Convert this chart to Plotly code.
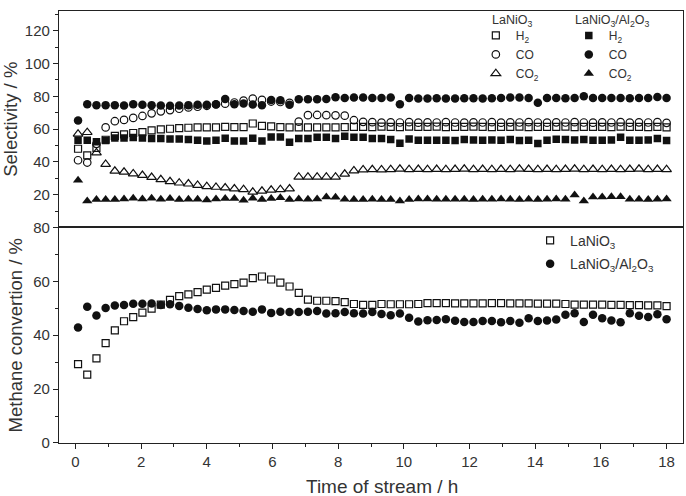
import plotly.graph_objects as go

# ---------------- data ----------------
time_h = [0.08, 0.36, 0.64, 0.92, 1.20, 1.48, 1.76, 2.04, 2.32, 2.60,
          2.88, 3.16, 3.44, 3.72, 4.00, 4.28, 4.56, 4.84, 5.12, 5.40,
          5.68, 5.96, 6.24, 6.52, 6.80, 7.08, 7.36, 7.64, 7.92, 8.20,
          8.48, 8.76, 9.04, 9.32, 9.60, 9.88, 10.16, 10.44, 10.72, 11.00,
          11.28, 11.56, 11.84, 12.12, 12.40, 12.68, 12.96, 13.24, 13.52, 13.80,
          14.08, 14.36, 14.64, 14.92, 15.20, 15.48, 15.76, 16.04, 16.32, 16.60,
          16.88, 17.16, 17.44, 17.72, 18.00]

# Selectivity, LaNiO3 (open symbols)
sel_h2_lanio3 = [48.0, 44.0, 48.5, 53.5, 55.8, 56.8, 57.6, 58.2, 59.2, 59.8,
                 60.2, 60.6, 60.8, 61.0, 61.0, 61.0, 61.4, 61.2, 61.2, 63.4,
                 62.0, 61.6, 61.2, 61.0, 61.0, 61.0, 61.0, 61.0, 61.0, 61.2,
                 61.4, 61.4, 61.2, 61.5, 61.3, 61.2, 61.5, 61.4, 61.3, 61.5,
                 61.2, 61.4, 61.3, 61.5, 61.4, 61.2, 61.4, 61.3, 61.5, 61.2,
                 61.4, 61.3, 61.4, 61.5, 61.2, 61.4, 61.3, 61.4, 61.2, 61.5,
                 61.3, 61.4, 61.2, 61.4, 61.0]
sel_co_lanio3 = [41.0, 39.6, 51.0, 61.0, 64.8, 65.6, 66.8, 68.0, 69.6, 70.8,
                 71.6, 72.4, 73.2, 73.6, 74.2, 75.0, 75.5, 76.2, 77.4, 78.6,
                 77.8, 76.8, 76.5, 76.0, 64.5, 68.5, 68.6, 68.5, 68.4, 68.2,
                 65.4, 64.4, 64.2, 63.9, 64.1, 64.0, 64.2, 63.9, 64.1, 64.0,
                 64.2, 64.0, 63.9, 64.1, 64.0, 64.2, 63.9, 64.1, 64.0, 64.2,
                 64.0, 63.9, 64.1, 64.0, 64.2, 64.0, 63.9, 64.1, 64.0, 64.2,
                 63.9, 64.1, 64.0, 64.2, 63.8]
sel_co2_lanio3 = [57.0, 58.0, 45.6, 38.6, 34.4, 33.8, 32.8, 31.8, 30.6, 29.2,
                  28.0, 27.2, 26.6, 25.8, 25.0, 24.6, 24.2, 23.6, 23.2, 21.6,
                  22.2, 22.8, 23.2, 23.6, 30.8, 30.8, 30.8, 30.8, 30.8, 32.6,
                  34.6, 35.2, 35.3, 35.2, 35.4, 35.6, 35.4, 35.5, 35.4, 35.5,
                  35.4, 35.5, 35.6, 35.4, 35.5, 35.4, 35.5, 35.4, 35.6, 35.5,
                  35.4, 35.5, 35.4, 35.5, 35.6, 35.4, 35.5, 35.4, 35.5, 35.4,
                  35.5, 35.6, 35.4, 35.5, 35.4]

# Selectivity, LaNiO3/Al2O3 (filled symbols)
sel_h2_al2o3 = [53.2, 53.2, 52.2, 53.0, 54.6, 54.6, 54.8, 54.6, 54.2, 54.2,
                54.0, 54.0, 53.6, 53.2, 52.8, 53.2, 54.4, 52.8, 52.8, 54.4,
                52.8, 55.2, 55.2, 52.0, 54.2, 54.2, 55.0, 55.0, 54.2, 55.6,
                55.0, 55.0, 54.2, 54.2, 53.6, 51.4, 54.0, 53.2, 53.2, 53.2,
                53.2, 53.0, 53.6, 53.4, 53.2, 53.4, 53.2, 53.6, 53.0, 53.2,
                51.2, 53.2, 53.8, 53.6, 53.4, 53.6, 53.2, 53.2, 53.4, 55.0,
                53.2, 53.2, 53.4, 54.2, 53.0]
sel_co_al2o3 = [65.2, 75.2, 74.6, 74.6, 74.6, 74.4, 75.2, 74.8, 74.6, 74.4,
                74.2, 74.4, 74.6, 74.8, 74.8, 75.2, 78.4, 75.2, 75.6, 75.0,
                74.6, 77.8, 77.6, 74.8, 78.2, 78.2, 78.2, 78.4, 79.4, 79.0,
                79.2, 79.2, 79.0, 79.0, 79.2, 75.2, 79.0, 78.6, 78.6, 78.8,
                78.6, 78.6, 78.8, 78.8, 78.6, 78.8, 79.0, 79.2, 79.2, 79.0,
                76.0, 79.0, 79.0, 78.8, 79.0, 80.0, 79.0, 79.0, 79.0, 79.0,
                78.8, 79.0, 79.0, 79.6, 79.0]
sel_co2_al2o3 = [28.8, 16.2, 17.0, 17.0, 17.0, 17.4, 17.8, 17.4, 17.8, 17.2,
                 17.6, 17.0, 17.2, 17.2, 16.8, 17.4, 17.6, 17.6, 16.6, 17.8,
                 17.0, 17.6, 18.2, 17.0, 17.4, 17.2, 17.4, 18.6, 18.4, 17.2,
                 17.0, 17.0, 17.2, 17.0, 17.0, 16.2, 17.0, 17.4, 17.4, 17.2,
                 17.2, 17.2, 17.2, 17.0, 17.2, 17.2, 17.4, 17.2, 17.0, 17.2,
                 17.0, 17.2, 17.4, 17.2, 19.8, 16.2, 18.6, 18.6, 18.8, 18.8,
                 17.2, 17.2, 17.0, 17.2, 17.4]

# Methane conversion
conv_lanio3 = [29.3, 25.4, 31.4, 37.1, 41.8, 45.2, 46.7, 48.4, 49.9, 51.4,
               53.1, 54.5, 55.2, 56.0, 56.9, 57.6, 58.4, 59.0, 59.5, 61.2,
               61.8, 60.7, 59.5, 58.1, 55.7, 53.2, 52.8, 52.8, 52.7, 52.3,
               51.6, 51.3, 51.3, 51.6, 51.5, 51.5, 51.5, 51.6, 51.9, 51.9,
               51.9, 51.8, 51.8, 51.8, 51.8, 51.9, 51.9, 51.8, 51.8, 51.8,
               51.7, 51.7, 51.7, 51.6, 51.4, 51.4, 51.4, 51.4, 51.3, 51.3,
               51.2, 51.2, 51.1, 51.1, 50.8]
conv_lanio3_al2o3 = [42.9, 50.6, 47.3, 50.1, 51.0, 51.2, 51.7, 51.7, 51.8, 51.2,
                     51.5, 50.9, 50.2, 49.7, 49.3, 49.6, 49.6, 49.4, 49.0, 48.7,
                     49.6, 48.3, 48.7, 48.6, 48.6, 48.7, 49.0, 48.1, 48.2, 48.6,
                     48.2, 48.1, 48.6, 47.9, 47.4, 48.1, 46.5, 45.1, 45.6, 45.7,
                     45.9, 45.4, 44.9, 44.9, 45.3, 45.3, 44.8, 45.3, 44.6, 46.3,
                     45.3, 45.5, 45.8, 47.6, 48.2, 44.9, 47.6, 46.3, 45.5, 44.8,
                     48.2, 47.2, 46.8, 47.8, 45.9]

x_ticks = [0, 2, 4, 6, 8, 10, 12, 14, 16, 18]
sel_ticks = [20, 40, 60, 80, 100, 120]
conv_ticks = [0, 20, 40, 60, 80]

# ---------------- styling ----------------
W, H = 686, 496
ML, MR, MT, MB = 59, 2, 6, 53
PW, PH = W - ML - MR, H - MT - MB
INK = "#111111"
TXT = "#333333"
FONT = "Liberation Sans, Arial, Helvetica, sans-serif"
SPLIT = 0.4989
LEG_FONT = 12
HEAD_FONT = 12.5


def px_x(p):
    return (p - ML) / PW


def px_y(p):
    return 1 - (p - MT) / PH


fig = go.Figure()


def add(x, y, name, symbol, size, xa, ya, legend, filled, group):
    marker = dict(symbol=symbol if filled else symbol + "-open", size=size,
                  color=INK, line=dict(color=INK, width=0 if filled else 1.2))
    fig.add_trace(go.Scatter(x=x, y=y, mode="markers", name=name, marker=marker,
                             xaxis=xa, yaxis=ya, legend=legend, legendgroup=group,
                             showlegend=True))


add(time_h, sel_h2_lanio3, "H<sub>2</sub>", "square", 7, "x2", "y2", "legend", False, "a1")
add(time_h, sel_co_lanio3, "CO", "circle", 7.5, "x2", "y2", "legend", False, "a2")
add(time_h, sel_co2_lanio3, "CO<sub>2</sub>", "triangle-up", 8.5, "x2", "y2", "legend", False, "a3")
add(time_h, sel_h2_al2o3, "H<sub>2</sub>", "square", 7.5, "x2", "y2", "legend2", True, "b1")
add(time_h, sel_co_al2o3, "CO", "circle", 8.5, "x2", "y2", "legend2", True, "b2")
add(time_h, sel_co2_al2o3, "CO<sub>2</sub>", "triangle-up", 9, "x2", "y2", "legend2", True, "b3")
add(time_h, conv_lanio3, "LaNiO<sub>3</sub>", "square", 7, "x", "y", "legend3", False, "c1")
add(time_h, conv_lanio3_al2o3, "LaNiO<sub>3</sub>/Al<sub>2</sub>O<sub>3</sub>", "circle", 8.5,
    "x", "y", "legend3", True, "c2")

axis_common = dict(showline=True, linecolor="#222222", linewidth=1.3, mirror=True,
                   showgrid=False, zeroline=False,
                   tickfont=dict(family=FONT, size=15, color=TXT),
                   ticks="outside", ticklen=5, tickwidth=1.1, tickcolor="#222222")

leg_common = dict(xanchor="left", yanchor="top", bgcolor="rgba(0,0,0,0)", itemwidth=30)

fig.update_layout(
    width=W, height=H,
    margin=dict(l=ML, r=MR, t=MT, b=MB),
    paper_bgcolor="white", plot_bgcolor="white",
    font=dict(family=FONT, color=TXT),
    xaxis=dict(domain=[0, 1], range=[-0.5, 18.5], anchor="y", tickvals=x_ticks,
               minor=dict(dtick=1, tick0=0, ticks="outside", ticklen=3, tickcolor="#222222"),
               **axis_common),
    yaxis=dict(domain=[0, SPLIT], range=[0, 80], anchor="x", tickvals=conv_ticks,
               minor=dict(dtick=10, tick0=0, ticks="outside", ticklen=3, tickcolor="#222222"),
               title=dict(text="Methane convertion / %", font=dict(family=FONT, size=18.5, color=TXT),
                          standoff=5),
               **axis_common),
    xaxis2=dict(domain=[0, 1], range=[-0.5, 18.5], anchor="y2", matches="x",
                showticklabels=False, showline=True, linecolor="#222222", linewidth=1.3,
                mirror=True, showgrid=False, zeroline=False, ticks=""),
    yaxis2=dict(domain=[SPLIT, 1], range=[0, 132], anchor="x2", tickvals=sel_ticks,
                minor=dict(dtick=10, tick0=0, ticks="outside", ticklen=3, tickcolor="#222222"),
                title=dict(text="Selectivity / %", font=dict(family=FONT, size=18.5, color=TXT),
                           standoff=5),
                **axis_common),
    legend=dict(x=0.668, y=0.977, tracegroupgap=0,
                font=dict(family=FONT, size=LEG_FONT, color=TXT), **leg_common),
    legend2=dict(x=0.817, y=0.977, tracegroupgap=0,
                 font=dict(family=FONT, size=LEG_FONT, color=TXT), **leg_common),
    legend3=dict(x=0.755, y=0.505, tracegroupgap=2,
                 font=dict(family=FONT, size=14, color=TXT), **leg_common),
    annotations=[
        dict(text="LaNiO<sub>3</sub>", xref="paper", yref="paper", x=px_x(491),
             y=px_y(16.5), xanchor="left", yanchor="middle", showarrow=False,
             font=dict(family=FONT, size=HEAD_FONT, color=TXT)),
        dict(text="LaNiO<sub>3</sub>/Al<sub>2</sub>O<sub>3</sub>", xref="paper", yref="paper",
             x=px_x(574), y=px_y(16.5), xanchor="left",
             yanchor="middle", showarrow=False, font=dict(family=FONT, size=HEAD_FONT, color=TXT)),
        dict(text="Time of stream / h", xref="paper", yref="paper", x=px_x(383),
             y=px_y(487), xanchor="center", yanchor="middle", showarrow=False,
             font=dict(family=FONT, size=19, color=TXT)),
    ],
)

fig.write_html("out.html")
